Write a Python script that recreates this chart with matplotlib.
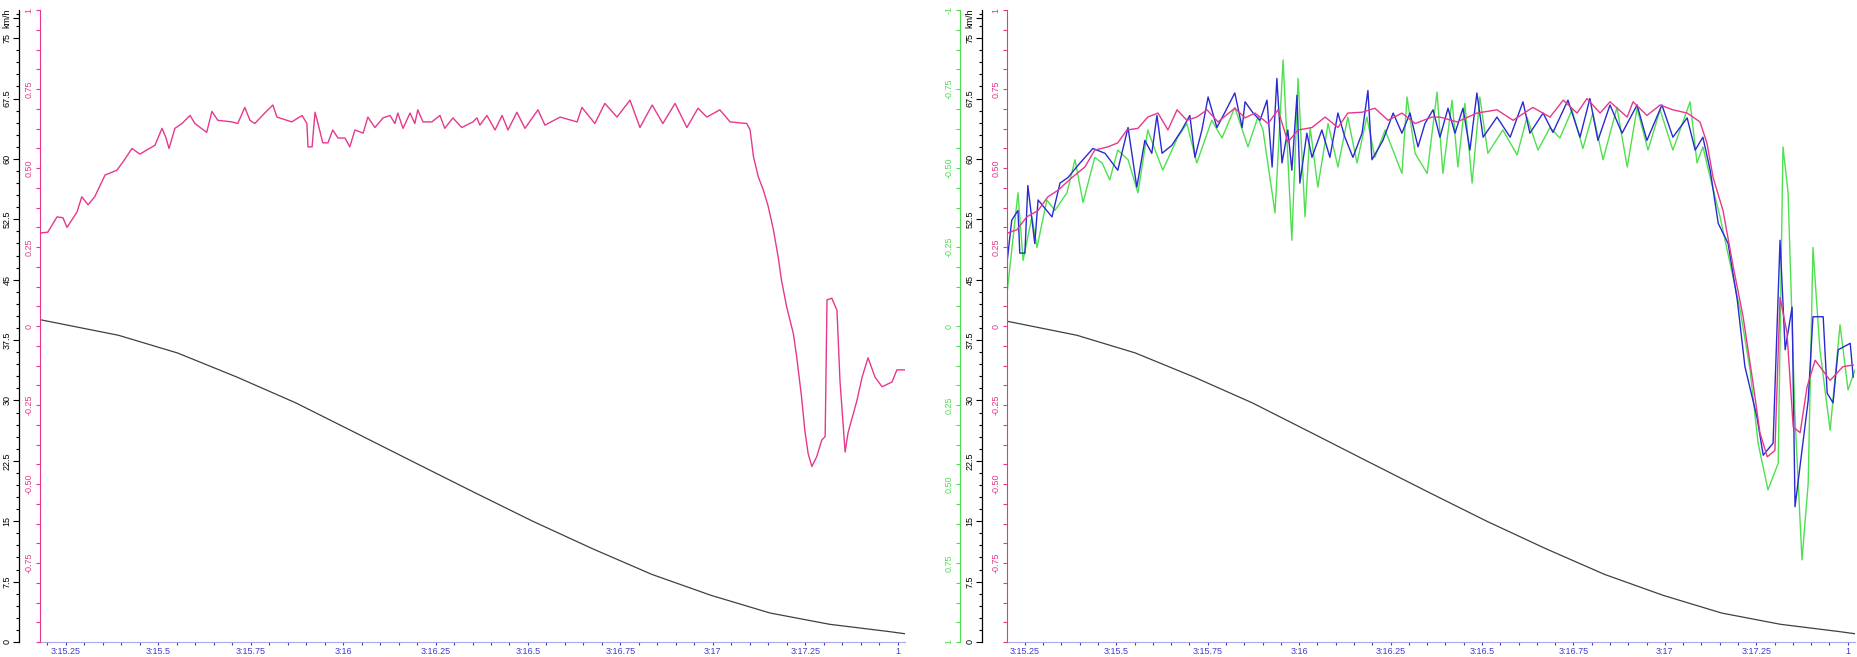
import matplotlib
matplotlib.use("Agg")
import matplotlib.pyplot as plt
from matplotlib.ticker import MultipleLocator, FixedLocator

plt.rcParams["font.family"] = ["Liberation Sans", "DejaVu Sans"]

PINK = "#e6388c"
GREEN = "#4fe04f"
BLUE = "#2a2ad2"
DARK = "#404040"
AXBLUE = "#3c3cd0"

# --- x axis (seconds, shown as m:ss) ---
time_ticks = [195.25, 195.5, 195.75, 196.0, 196.25, 196.5, 196.75, 197.0, 197.25, 197.5]
time_labels = ["3:15.25", "3:15.5", "3:15.75", "3:16", "3:16.25", "3:16.5",
               "3:16.75", "3:17", "3:17.25", "1"]

# --- y axes ---
kmh_ticks = [0, 7.5, 15, 22.5, 30, 37.5, 45, 52.5, 60, 67.5, 75, 77.5]
kmh_labels = ["0", "7.5", "15", "22.5", "30", "37.5", "45", "52.5", "60", "67.5", "75", "km/h"]
pink_ticks = [-0.75, -0.5, -0.25, 0, 0.25, 0.5, 0.75, 1]
pink_labels = ["-0.75", "-0.50", "-0.25", "0", "0.25", "0.50", "0.75", "1"]
green_ticks = [-1, -0.75, -0.5, -0.25, 0, 0.25, 0.5, 0.75, 1]
green_labels = ["-1", "-0.75", "-0.50", "-0.25", "0", "0.25", "0.50", "0.75", "1"]

# --- black curve (same in both panels) ---
dist_t = [195.184, 195.392, 195.552, 195.713, 195.872, 196.033, 196.193, 196.354,
          196.513, 196.674, 196.835, 196.995, 197.155, 197.316, 197.476, 197.524]
dist_v = [40.0, 38.1, 35.9, 32.9, 29.7, 26.0, 22.3, 18.6, 15.0, 11.6, 8.4, 5.8,
          3.6, 2.2, 1.3, 1.0]

# --- left panel speed (pink) ---
left_t = [195.180, 195.201, 195.226, 195.242, 195.253, 195.280, 195.293, 195.310, 195.328,
          195.356, 195.388, 195.404, 195.429, 195.450, 195.491, 195.510, 195.521, 195.529,
          195.545, 195.564, 195.586, 195.599, 195.631, 195.645, 195.661, 195.699, 195.715,
          195.734, 195.748, 195.761, 195.788, 195.810, 195.821, 195.861, 195.889, 195.902,
          195.905, 195.916, 195.924, 195.932, 195.945, 195.959, 195.972, 195.986, 196.005,
          196.018, 196.032, 196.054, 196.067, 196.086, 196.108, 196.127, 196.140, 196.148,
          196.162, 196.181, 196.194, 196.202, 196.216, 196.240, 196.262, 196.275, 196.297,
          196.321, 196.351, 196.362, 196.370, 196.389, 196.411, 196.430, 196.446, 196.470,
          196.492, 196.527, 196.546, 196.587, 196.633, 196.646, 196.681, 196.708, 196.741,
          196.776, 196.803, 196.836, 196.865, 196.898, 196.930, 196.960, 196.984, 197.019,
          197.047, 197.092, 197.101, 197.110, 197.123, 197.137, 197.150, 197.164, 197.177,
          197.186, 197.200, 197.218, 197.227, 197.240, 197.249, 197.258, 197.268, 197.281,
          197.295, 197.304, 197.309, 197.322, 197.336, 197.344, 197.358, 197.366, 197.390,
          197.404, 197.420, 197.439, 197.458, 197.485, 197.498, 197.520]
left_v = [50.8, 50.9, 52.8, 52.7, 51.5, 53.4, 55.3, 54.3, 55.3,
          58.0, 58.6, 59.6, 61.3, 60.6, 61.7, 63.8, 62.6, 61.3,
          63.8, 64.4, 65.4, 64.4, 63.3, 65.9, 64.8, 64.6, 64.4,
          66.4, 64.8, 64.4, 65.7, 66.7, 65.2, 64.6, 65.4, 64.4,
          61.5, 61.5, 65.8, 64.4, 62.0, 62.0, 63.6, 62.6, 62.6,
          61.5, 63.6, 63.2, 65.2, 63.9, 65.1, 65.4, 64.4, 65.7,
          63.8, 65.7, 64.4, 66.1, 64.6, 64.6, 65.4, 63.8, 65.1,
          63.9, 64.6, 65.1, 64.2, 65.4, 63.6, 65.4, 63.6, 65.8,
          63.8, 66.1, 64.2, 65.2, 64.6, 66.4, 64.4, 66.9, 65.2,
          67.3, 63.9, 66.7, 64.4, 66.9, 63.9, 66.3, 65.2, 66.1,
          64.6, 64.4, 63.6, 60.3, 57.8, 56.1, 54.1, 51.2, 47.8,
          44.9, 41.6, 38.3, 35.4, 30.5, 26.3, 23.4, 21.8, 23.0,
          25.1, 25.5, 42.5, 42.7, 41.2, 32.5, 23.6, 26.0, 30.0,
          32.9, 35.3, 32.9, 31.7, 32.3, 33.8, 33.8]

# --- right panel: pink ---
rp_t = [195.203, 195.228, 195.255, 195.286, 195.313, 195.340, 195.379, 195.414, 195.441,
        195.477, 195.504, 195.529, 195.559, 195.586, 195.614, 195.641, 195.666, 195.693,
        195.720, 195.748, 195.778, 195.824, 195.852, 195.879, 195.915, 195.942, 195.969,
        195.997, 196.035, 196.071, 196.106, 196.133, 196.172, 196.207, 196.243, 196.281,
        196.317, 196.363, 196.385, 196.432, 196.486, 196.541, 196.585, 196.639, 196.686,
        196.722, 196.760, 196.787, 196.823, 196.850, 196.897, 196.913, 196.951, 196.987,
        197.022, 197.061, 197.096, 197.115, 197.132, 197.159, 197.187, 197.214, 197.241,
        197.260, 197.280, 197.301, 197.315, 197.334, 197.351, 197.370, 197.389, 197.411,
        197.452, 197.487, 197.515]
rp_v = [50.8, 51.2, 52.8, 53.6, 55.3, 56.1, 57.7, 59.0, 61.1,
        61.5, 62.0, 63.6, 63.8, 65.2, 65.7, 63.6, 66.1, 64.8,
        65.2, 66.1, 64.6, 66.3, 65.1, 65.7, 64.4, 66.1, 62.1,
        63.6, 63.9, 65.2, 63.9, 65.7, 65.8, 66.3, 64.8, 65.7,
        64.4, 65.2, 65.2, 64.6, 65.7, 66.1, 64.8, 66.4, 65.2,
        67.3, 65.7, 67.5, 65.7, 67.1, 65.2, 67.1, 65.4, 66.7,
        66.1, 65.7, 64.6, 62.0, 57.7, 53.6, 46.6, 40.4, 32.2,
        26.0, 23.0, 23.8, 42.8, 38.4, 26.7, 26.0, 31.7, 35.0,
        32.5, 34.2, 34.4]

# --- right panel: blue ---
rb_t = [195.201, 195.214, 195.231, 195.236, 195.250, 195.258, 195.277, 195.286, 195.324,
        195.346, 195.368, 195.395, 195.436, 195.469, 195.504, 195.532, 195.556, 195.578,
        195.597, 195.611, 195.625, 195.652, 195.679, 195.701, 195.715, 195.734, 195.751,
        195.775, 195.797, 195.824, 195.844, 195.852, 195.874, 195.893, 195.912, 195.926,
        195.939, 195.953, 195.969, 195.980, 195.994, 196.002, 196.021, 196.035, 196.062,
        196.084, 196.106, 196.125, 196.147, 196.172, 196.188, 196.199, 196.229, 196.257,
        196.281, 196.303, 196.325, 196.344, 196.366, 196.385, 196.407, 196.426, 196.448,
        196.467, 196.486, 196.503, 196.541, 196.577, 196.612, 196.631, 196.667, 196.694,
        196.735, 196.768, 196.795, 196.817, 196.850, 196.883, 196.924, 196.951, 196.992,
        197.022, 197.061, 197.083, 197.104, 197.124, 197.146, 197.173, 197.198, 197.219,
        197.252, 197.269, 197.296, 197.315, 197.329, 197.348, 197.356, 197.375, 197.392,
        197.405, 197.433, 197.444, 197.460, 197.474, 197.507, 197.515]
rb_v = [47.1, 52.4, 53.6, 48.3, 48.3, 56.7, 49.5, 54.9, 52.8,
        57.0, 57.7, 59.2, 61.3, 60.7, 58.6, 63.9, 56.5, 62.3,
        60.7, 65.4, 60.7, 61.7, 63.6, 65.4, 60.2, 63.6, 67.7,
        63.9, 65.8, 68.2, 63.9, 67.1, 65.7, 64.8, 67.3, 59.0,
        70.0, 59.5, 63.6, 58.6, 67.9, 57.0, 63.2, 60.2, 63.6,
        60.2, 65.7, 62.7, 60.2, 63.2, 68.5, 59.9, 62.3, 65.7,
        63.2, 65.7, 61.5, 64.4, 66.1, 62.7, 66.3, 63.2, 66.3,
        61.1, 68.2, 62.7, 65.2, 62.7, 67.1, 63.2, 65.7, 63.3,
        67.3, 62.7, 67.5, 62.3, 66.7, 63.2, 66.7, 62.3, 66.7,
        62.7, 65.1, 61.1, 62.7, 58.6, 52.0, 49.5, 42.5, 34.2,
        27.9, 23.2, 24.7, 49.9, 36.3, 41.6, 16.8, 23.8, 30.0,
        40.4, 40.4, 30.9, 29.7, 36.3, 37.1, 32.9]

# --- right panel: green ---
rg_t = [195.201, 195.214, 195.231, 195.245, 195.269, 195.283, 195.310, 195.332, 195.365,
        195.387, 195.409, 195.441, 195.461, 195.482, 195.504, 195.532, 195.559, 195.586,
        195.606, 195.627, 195.668, 195.693, 195.720, 195.761, 195.789, 195.824, 195.860,
        195.887, 195.901, 195.934, 195.956, 195.980, 195.997, 196.016, 196.030, 196.051,
        196.079, 196.106, 196.133, 196.158, 196.185, 196.207, 196.235, 196.281, 196.295,
        196.317, 196.350, 196.377, 196.393, 196.418, 196.434, 196.453, 196.473, 196.494,
        196.516, 196.557, 196.596, 196.623, 196.653, 196.686, 196.713, 196.746, 196.776,
        196.803, 196.831, 196.869, 196.897, 196.924, 196.954, 196.987, 197.022, 197.069,
        197.088, 197.104, 197.124, 197.151, 197.178, 197.206, 197.233, 197.255, 197.282,
        197.310, 197.323, 197.337, 197.356, 197.375, 197.392, 197.405, 197.424, 197.452,
        197.479, 197.501, 197.520]
rg_v = [43.3, 48.7, 55.8, 47.4, 52.8, 49.0, 54.9, 53.6, 55.8,
        59.9, 54.6, 60.2, 59.5, 57.4, 61.1, 59.9, 55.8, 63.6,
        61.1, 58.6, 62.7, 64.4, 59.5, 64.8, 62.6, 66.4, 61.5,
        65.2, 63.6, 53.3, 72.3, 49.9, 70.0, 52.8, 63.9, 56.5,
        64.4, 59.0, 65.2, 59.5, 65.2, 60.2, 63.6, 58.2, 67.7,
        60.7, 58.2, 68.3, 58.2, 67.3, 59.0, 66.9, 57.0, 67.7,
        60.7, 63.6, 60.5, 65.2, 61.1, 63.9, 62.6, 66.1, 61.3,
        65.7, 59.9, 66.4, 59.0, 66.3, 61.1, 66.1, 61.1, 67.1,
        59.5, 61.5, 57.7, 52.8, 47.1, 41.2, 33.8, 24.7, 18.9,
        22.2, 61.5, 55.8, 27.9, 10.2, 19.7, 49.0, 36.3, 26.3,
        39.4, 31.3, 33.8]

FS = 6.5


def style_panel(ax, xlim, kmh_offset, green_offset=None):
    ax.set_xlim(*xlim)
    ax.set_ylim(0, 78.5)
    for s in ("top", "right"):
        ax.spines[s].set_visible(False)
    ax.spines["bottom"].set_color("#a8a8ec")
    ax.spines["left"].set_position(("outward", kmh_offset))
    ax.spines["left"].set_color("black")
    ax.spines["left"].set_linewidth(0.9)

    ax.xaxis.set_major_locator(FixedLocator(time_ticks))
    ax.set_xticklabels(time_labels)
    ax.xaxis.set_minor_locator(MultipleLocator(0.05))
    ax.tick_params(axis="x", which="both", colors=AXBLUE, labelsize=FS, pad=1,
                   length=2.5, width=0.8)

    ax.yaxis.set_major_locator(FixedLocator(kmh_ticks))
    ax.set_yticklabels(kmh_labels)
    ax.yaxis.set_minor_locator(MultipleLocator(1.5))
    ax.tick_params(axis="y", which="major", length=4, width=0.8, pad=1.5,
                   labelsize=FS, labelrotation=90)
    ax.tick_params(axis="y", which="minor", length=2.5, width=0.8)
    for lab in ax.get_yticklabels():
        lab.set_va("center")

    # pink -1..1 scale on the frame edge
    pk = ax.twinx()
    pk.set_ylim(-1, 1)
    for s in ("top", "right", "bottom"):
        pk.spines[s].set_visible(False)
    pk.spines["left"].set_visible(True)
    pk.spines["left"].set_color(PINK)
    pk.yaxis.tick_left()
    pk.yaxis.set_major_locator(FixedLocator(pink_ticks))
    pk.set_yticklabels(pink_labels)
    pk.yaxis.set_minor_locator(MultipleLocator(0.0625))
    pk.tick_params(axis="y", which="both", colors=PINK, length=3, width=0.8,
                   pad=1.5, labelsize=FS, labelrotation=90)
    for lab in pk.get_yticklabels():
        lab.set_va("center")

    if green_offset is not None:
        gr = ax.twinx()
        gr.set_ylim(1, -1)
        for s in ("top", "right", "bottom"):
            gr.spines[s].set_visible(False)
        gr.spines["left"].set_visible(True)
        gr.spines["left"].set_position(("outward", green_offset))
        gr.spines["left"].set_color(GREEN)
        gr.yaxis.tick_left()
        gr.yaxis.set_major_locator(FixedLocator(green_ticks))
        gr.set_yticklabels(green_labels)
        gr.yaxis.set_minor_locator(MultipleLocator(0.0625))
        gr.tick_params(axis="y", which="both", colors=GREEN, length=3, width=0.8,
                       pad=1.5, labelsize=FS, labelrotation=90)
        for lab in gr.get_yticklabels():
            lab.set_va("center")


fig = plt.figure(figsize=(18.58, 6.57), dpi=100)
ax1 = fig.add_axes([40 / 1858, 15 / 657, 865 / 1858, 632 / 657])
ax2 = fig.add_axes([1007 / 1858, 15 / 657, 848 / 1858, 632 / 657])

# left panel
ax1.plot(left_t, left_v, color=PINK, lw=1.0)
ax1.plot(dist_t, dist_v, color=DARK, lw=0.9)
style_panel(ax1, (195.180, 197.520), 15)

# right panel
ax2.plot(rg_t, rg_v, color=GREEN, lw=1.0)
ax2.plot(rb_t, rb_v, color=BLUE, lw=1.0)
ax2.plot(rp_t, rp_v, color=PINK, lw=1.0)
ax2.plot(dist_t, dist_v, color=DARK, lw=0.9)
style_panel(ax2, (195.201, 197.520), 18, green_offset=34)

fig.savefig("out.png", dpi=100)
